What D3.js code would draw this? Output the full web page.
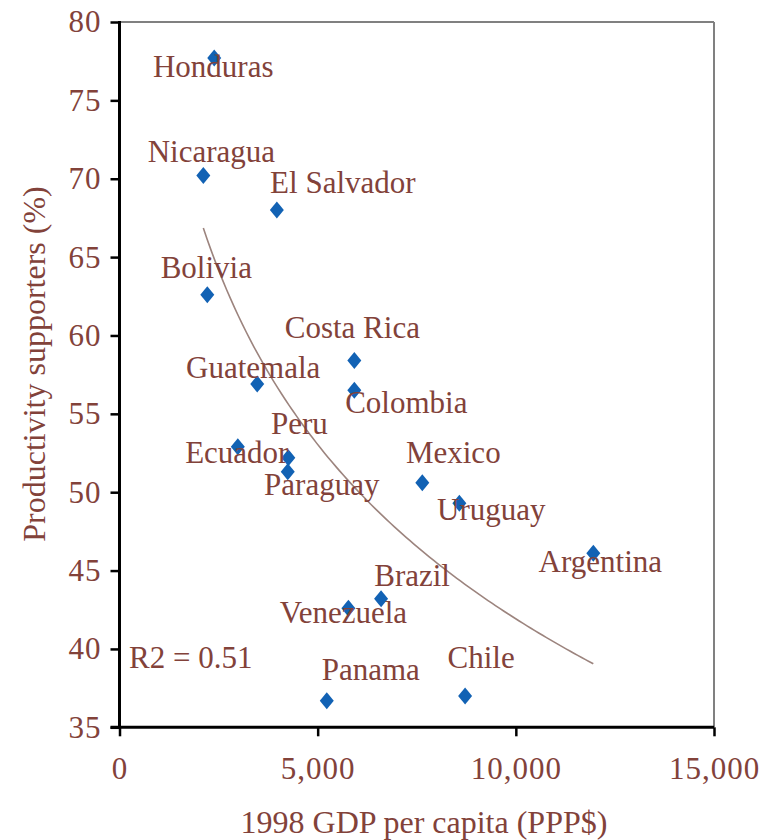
<!DOCTYPE html>
<html>
<head>
<meta charset="utf-8">
<script src="https://cdn.jsdelivr.net/npm/d3@7"></script>
<style>
  html, body { margin: 0; padding: 0; background: #ffffff; }
  svg { display: block; }
</style>
</head>
<body>
<svg id="chart" width="773" height="840"></svg>
<script>
// Latin American countries: 1998 GDP per capita (PPP$) vs. share of productivity supporters (%)
const countries = ["Honduras", "Nicaragua", "El Salvador", "Bolivia", "Costa Rica", "Colombia",
  "Guatemala", "Ecuador", "Peru", "Paraguay", "Mexico", "Uruguay", "Argentina", "Brazil",
  "Venezuela", "Panama", "Chile"];
const gdpPerCapita = [2390, 2115, 3970, 2215, 5925, 5925, 3475, 2985, 4260, 4245, 7640, 8575,
  11955, 6600, 5775, 5230, 8720];
const productivitySupporters = [77.7, 70.2, 68.0, 62.6, 58.4, 56.5, 56.9, 52.9, 52.2, 51.3, 50.6,
  49.3, 46.1, 43.2, 42.6, 36.7, 37.0];
const xTicks = [0, 5000, 10000, 15000];
const yTicks = [35, 40, 45, 50, 55, 60, 65, 70, 75, 80];

// Label placement relative to each marker (centre offset, baseline offset)
const labelOffset = {
  "Honduras": [-1, 19], "Nicaragua": [8, -14], "El Salvador": [66, -17], "Bolivia": [-1, -17],
  "Costa Rica": [-2, -23], "Colombia": [52, 23], "Guatemala": [-4, -6], "Ecuador": [-1, 16],
  "Peru": [11, -24], "Paraguay": [34, 23], "Mexico": [31, -20], "Uruguay": [32, 17],
  "Argentina": [7, 19], "Brazil": [31, -13], "Venezuela": [-5, 15], "Panama": [44, -21],
  "Chile": [16, -28]
};

const FONT = "Liberation Serif, DejaVu Serif, serif";
const INK = "#82423a";

const data = countries.map((c, i) => ({ name: c, gdp: gdpPerCapita[i], pct: productivitySupporters[i] }));

const svg = d3.select("#chart");
const x = d3.scaleLinear().domain([0, 15000]).range([119.5, 714]);
const y = d3.scaleLinear().domain([35, 80]).range([727.3, 22]);

// Frame: grey top and right edges
svg.append("line").attr("x1", x(0)).attr("x2", x(15000)).attr("y1", y(80)).attr("y2", y(80))
  .attr("stroke", "#808080").attr("stroke-width", 2);
svg.append("line").attr("x1", x(15000)).attr("x2", x(15000)).attr("y1", y(80)).attr("y2", y(35))
  .attr("stroke", "#808080").attr("stroke-width", 2);

// Logarithmic trend line fitted to the data: y = a + b ln(x)
const lx = data.map(d => Math.log(d.gdp));
const ly = data.map(d => d.pct);
const mx = d3.mean(lx), my = d3.mean(ly);
let sxy = 0, sxx = 0, syy = 0;
lx.forEach((v, i) => { sxy += (v - mx) * (ly[i] - my); sxx += (v - mx) ** 2; syy += (ly[i] - my) ** 2; });
const b = sxy / sxx, a = my - b * mx;
const r2 = (sxy * sxy) / (sxx * syy);
const [gMin, gMax] = d3.extent(gdpPerCapita);
const trend = d3.range(0, 101).map(k => {
  const g = gMin + (gMax - gMin) * k / 100;
  return [g, a + b * Math.log(g)];
});
svg.append("path").datum(trend)
  .attr("fill", "none").attr("stroke", "#9c847e").attr("stroke-width", 1.6)
  .attr("d", d3.line().x(d => x(d[0])).y(d => y(d[1])));

// Axes
const yAxis = svg.append("g").attr("transform", `translate(${x(0)},0)`)
  .call(d3.axisLeft(y).tickValues(yTicks).tickSize(9).tickPadding(9).tickSizeOuter(0));
const xAxis = svg.append("g").attr("transform", `translate(0,${y(35)})`)
  .call(d3.axisBottom(x).tickValues(xTicks).tickSize(9).tickSizeOuter(0).tickFormat(d3.format(",")));

[yAxis, xAxis].forEach(g => {
  g.attr("font-family", null).attr("font-size", null);
  g.select(".domain").attr("stroke", "#000").attr("stroke-width", 3);
  g.selectAll(".tick line").attr("stroke", "#000").attr("stroke-width", 2.5);
  g.selectAll(".tick text").attr("fill", INK)
    .attr("font-family", FONT).attr("font-size", 31).attr("letter-spacing", 1);
});
yAxis.select(".domain").attr("d", `M0,${y(80) - 1}V${y(35) + 1.5}`);
xAxis.select(".domain").attr("d", `M${x(0) - 9},0H${x(15000)}`);
xAxis.selectAll(".tick text").attr("y", 0).attr("dy", 0).attr("transform", "translate(0,52)");

// Markers: blue diamonds
const diamond = "M0,-8.5L7,0L0,8.5L-7,0Z";
svg.append("g").selectAll("path").data(data).join("path")
  .attr("d", diamond)
  .attr("transform", d => `translate(${x(d.gdp)},${y(d.pct)})`)
  .attr("fill", "#1262b4");

// Country labels
svg.append("g").selectAll("text").data(data).join("text")
  .attr("x", d => x(d.gdp) + labelOffset[d.name][0])
  .attr("y", d => y(d.pct) + labelOffset[d.name][1])
  .attr("text-anchor", "middle")
  .attr("font-family", FONT).attr("font-size", 31).attr("fill", INK)
  .text(d => d.name);

// Goodness of fit
svg.append("text").attr("x", 129).attr("y", 668)
  .attr("font-family", FONT).attr("font-size", 31).attr("fill", INK)
  .text(`R2 = ${r2.toFixed(2)}`);

// Axis titles
svg.append("text").attr("x", 424).attr("y", 833).attr("text-anchor", "middle")
  .attr("font-family", FONT).attr("font-size", 32).attr("fill", INK)
  .text("1998 GDP per capita (PPP$)");
svg.append("text").attr("transform", "translate(45,364) rotate(-90)").attr("text-anchor", "middle")
  .attr("font-family", FONT).attr("font-size", 32).attr("fill", INK)
  .text("Productivity supporters (%)");
</script>
</body>
</html>
